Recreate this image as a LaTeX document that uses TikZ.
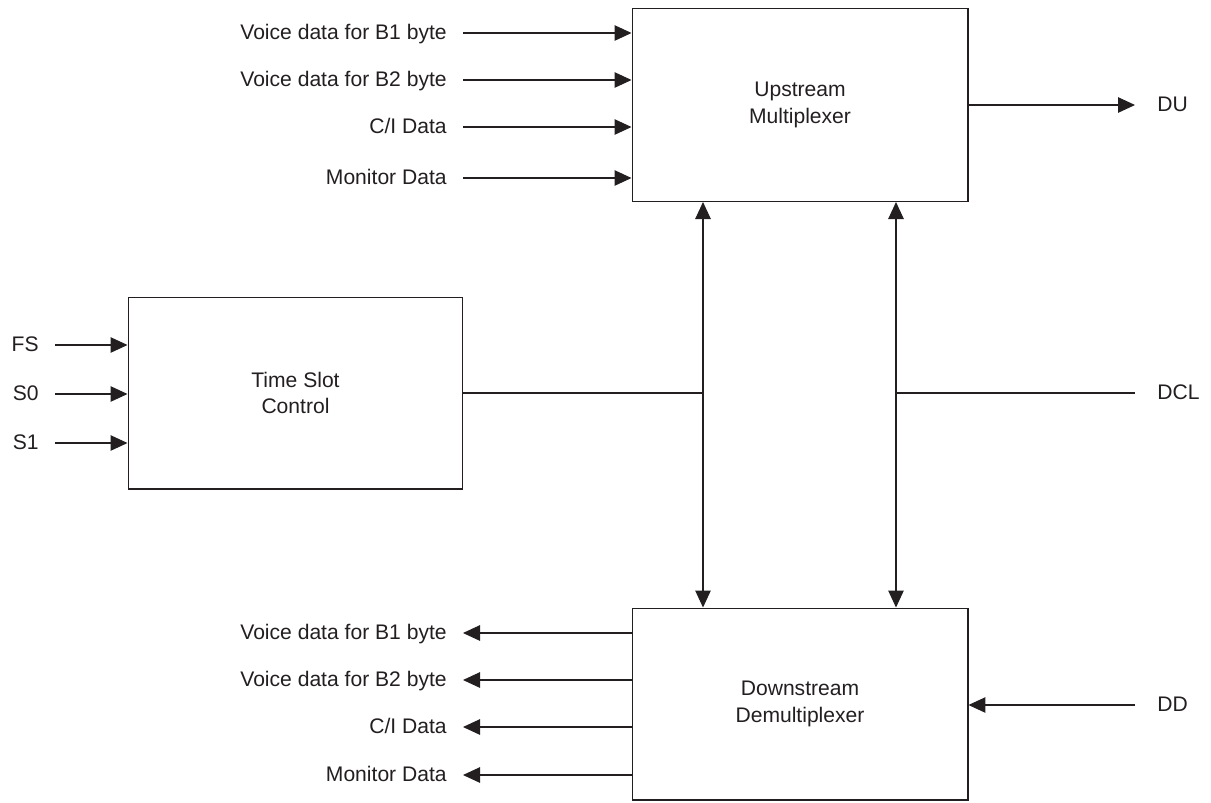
\documentclass[tikz,border=0pt]{standalone}
\usepackage{fontspec}
\setmainfont{Liberation Sans}
\usepackage{tikz}
\usetikzlibrary{arrows.meta}

\definecolor{ink}{HTML}{231F20}

\tikzset{
  blk/.style={draw=ink,line width=0.6pt,text=ink,align=center,minimum width=6.72cm,minimum height=3.86cm},
  sig/.style={text=ink,inner xsep=0.32cm,text height=1.6ex,text depth=0.2ex},
  wire/.style={draw=ink,line width=0.6pt},
  arr/.style={wire,-{Triangle[length=0.34cm,width=0.31cm]}},
  dbl/.style={wire,{Triangle[length=0.34cm,width=0.31cm]}-{Triangle[length=0.34cm,width=0.31cm]}}
}

\begin{document}
\begin{tikzpicture}[x=0.02cm,y=-0.02cm,font=\fontsize{12}{15}\selectfont]
      \useasboundingbox (0,0) rectangle (1211,802);

      \node[blk] (up) at (800,105) {Upstream\\Multiplexer};
      \node[blk,minimum width=6.7cm,minimum height=3.84cm] (tsc) at (295.5,393) {Time Slot\\Control};
      \node[blk,minimum height=3.84cm] (down) at (800,704) {Downstream\\Demultiplexer};

      \node[sig,anchor=east] (vb1) at (463,33) {Voice data for B1 byte};
      \node[sig,anchor=east] (vb2) at (463,80) {Voice data for B2 byte};
      \node[sig,anchor=east] (ciu) at (463,127) {C/I Data};
      \node[sig,anchor=east] (monu) at (463,178) {Monitor Data};
      \draw[arr] (vb1) -- (vb1 -| up.west);
      \draw[arr] (vb2) -- (vb2 -| up.west);
      \draw[arr] (ciu) -- (ciu -| up.west);
      \draw[arr] (monu) -- (monu -| up.west);

      \node[sig,anchor=west,inner xsep=0.44cm] (du) at (1135,105) {DU};
      \draw[arr] (up) -- (du);

      \node[sig,anchor=east] (fs) at (55,345) {FS};
      \node[sig,anchor=east] (szero) at (55,394) {S0};
      \node[sig,anchor=east] (sone) at (55,443) {S1};
      \draw[arr] (fs) -- (fs -| tsc.west);
      \draw[arr] (szero) -- (szero -| tsc.west);
      \draw[arr] (sone) -- (sone -| tsc.west);

      \coordinate (ja) at (703,393);
      \coordinate (jb) at (896,393);
      \node[sig,anchor=west,inner xsep=0.44cm] (dcl) at (1135,393) {DCL};
      \draw[wire] (tsc) -- (ja);
      \draw[wire] (jb) -- (dcl);
      \draw[dbl] (ja |- up.south) -- (ja |- down.north);
      \draw[dbl] (jb |- up.south) -- (jb |- down.north);

      \node[sig,anchor=east] (vd1) at (463,633) {Voice data for B1 byte};
      \node[sig,anchor=east] (vd2) at (463,680) {Voice data for B2 byte};
      \node[sig,anchor=east] (cid) at (463,727) {C/I Data};
      \node[sig,anchor=east] (mond) at (463,775) {Monitor Data};
      \draw[arr] (vd1 -| down.west) -- (vd1);
      \draw[arr] (vd2 -| down.west) -- (vd2);
      \draw[arr] (cid -| down.west) -- (cid);
      \draw[arr] (mond -| down.west) -- (mond);

      \node[sig,anchor=west,inner xsep=0.44cm] (dd) at (1135,705) {DD};
      \draw[arr] (dd) -- (dd -| down.east);
\end{tikzpicture}
\end{document}
